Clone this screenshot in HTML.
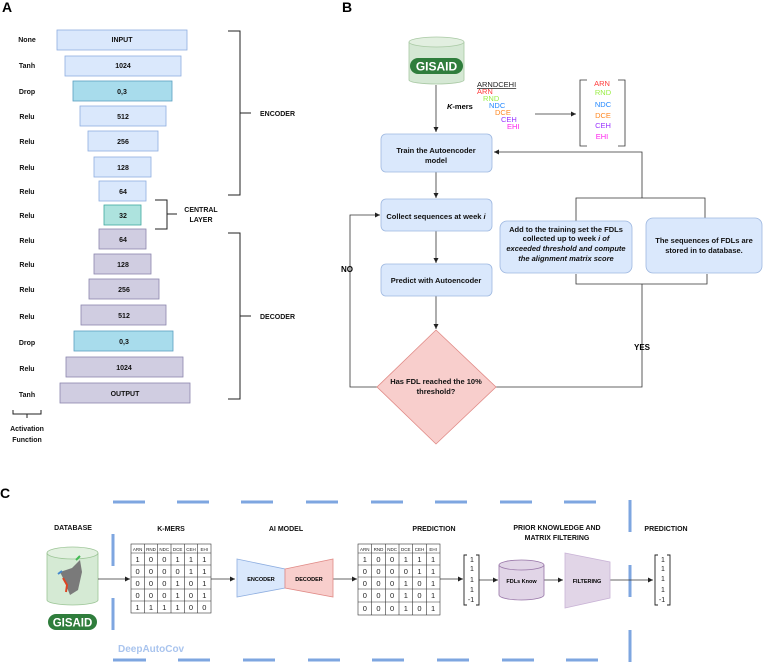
<!DOCTYPE html>
<html><head><meta charset="utf-8"><style>
html,body{margin:0;padding:0;background:#fff;}
svg{display:block;font-family:"Liberation Sans",Arial,sans-serif;}
.b{font-weight:bold;font-size:7px;fill:#111;}
.s{font-size:7.5px;fill:#111;font-weight:bold;}
</style></head><body>
<svg width="763" height="662" viewBox="0 0 763 662" xmlns="http://www.w3.org/2000/svg">
<defs>
<marker id="ar" markerWidth="6" markerHeight="6" refX="5" refY="3" orient="auto" markerUnits="userSpaceOnUse"><path d="M0,0.5 L5,3 L0,5.5z" fill="#222"/></marker>
</defs>
<!-- Panel A -->
<text x="2" y="12" font-size="14" font-weight="bold">A</text>
<g class="b" text-anchor="middle">
<text x="27" y="42">None</text><text x="27" y="68">Tanh</text><text x="27" y="94">Drop</text>
<text x="27" y="119">Relu</text><text x="27" y="144">Relu</text><text x="27" y="170">Relu</text>
<text x="27" y="194">Relu</text><text x="27" y="218">Relu</text><text x="27" y="243">Relu</text>
<text x="27" y="267">Relu</text><text x="27" y="292">Relu</text><text x="27" y="319">Relu</text>
<text x="27" y="345">Drop</text><text x="27" y="371">Relu</text><text x="27" y="397">Tanh</text>
</g>
<g stroke-width="0.8">
<rect x="57" y="30" width="130" height="20" fill="#dae8fc" stroke="#8eaee0"/>
<rect x="65" y="56" width="116" height="20" fill="#dae8fc" stroke="#8eaee0"/>
<rect x="73" y="81" width="99" height="20" fill="#a8dcec" stroke="#5a9fc0"/>
<rect x="80" y="106" width="86" height="20" fill="#dae8fc" stroke="#8eaee0"/>
<rect x="88" y="131" width="70" height="20" fill="#dae8fc" stroke="#8eaee0"/>
<rect x="94" y="157" width="57" height="20" fill="#dae8fc" stroke="#8eaee0"/>
<rect x="99" y="181" width="47" height="20" fill="#dae8fc" stroke="#8eaee0"/>
<rect x="104" y="205" width="37" height="20" fill="#ade3de" stroke="#3fa89f"/>
<rect x="99" y="229" width="47" height="20" fill="#d0cde1" stroke="#8c86ad"/>
<rect x="94" y="254" width="57" height="20" fill="#d0cde1" stroke="#8c86ad"/>
<rect x="89" y="279" width="70" height="20" fill="#d0cde1" stroke="#8c86ad"/>
<rect x="81" y="305" width="85" height="20" fill="#d0cde1" stroke="#8c86ad"/>
<rect x="74" y="331" width="99" height="20" fill="#a8dcec" stroke="#5a9fc0"/>
<rect x="66" y="357" width="117" height="20" fill="#d0cde1" stroke="#8c86ad"/>
<rect x="60" y="383" width="130" height="20" fill="#d0cde1" stroke="#8c86ad"/>
</g>
<g class="b" text-anchor="middle">
<text x="122" y="42">INPUT</text><text x="123" y="68">1024</text><text x="122" y="94">0,3</text>
<text x="123" y="119">512</text><text x="123" y="144">256</text><text x="123" y="170">128</text>
<text x="123" y="194">64</text><text x="123" y="218">32</text><text x="123" y="242">64</text>
<text x="123" y="267">128</text><text x="124" y="292">256</text><text x="124" y="318">512</text>
<text x="124" y="344">0,3</text><text x="124" y="370">1024</text><text x="125" y="396">OUTPUT</text>
</g>
<g fill="none" stroke="#222" stroke-width="1">
<path d="M228,31 H240 V195 H228 M240,113 H251"/>
<path d="M155,200 H167 V229 H155 M167,214 H177"/>
<path d="M228,233 H240 V399 H228 M240,316 H251"/>
<path d="M13,410 V414 H41 V410 M27,414 V418"/>
</g>
<g class="b">
<text x="260" y="116">ENCODER</text>
<text x="201" y="212" text-anchor="middle">CENTRAL</text>
<text x="201" y="222" text-anchor="middle">LAYER</text>
<text x="260" y="319">DECODER</text>
<text x="27" y="431" text-anchor="middle">Activation</text>
<text x="27" y="442" text-anchor="middle">Function</text>
</g>

<!-- Panel B -->
<text x="342" y="12" font-size="14" font-weight="bold">B</text>
<path d="M409,42 V80 A27.5,4 0 0 0 464,80 V42" fill="#d5e8d4" stroke="#a9c9a4" stroke-width="0.8"/>
<ellipse cx="436.5" cy="42" rx="27.5" ry="5" fill="#e2efe0" stroke="#a9c9a4" stroke-width="0.8"/>
<rect x="410" y="58" width="53" height="16" rx="8" fill="#2f7d3c"/>
<text x="436.5" y="70.5" text-anchor="middle" font-size="12" font-weight="bold" fill="#fff">GISAID</text>
<g stroke="#333" stroke-width="0.8" fill="none">
<path d="M436,85 V132" marker-end="url(#ar)"/>
<path d="M535,114 H576" marker-end="url(#ar)"/>
<path d="M436,172 V198" marker-end="url(#ar)"/>
<path d="M436,231 V263" marker-end="url(#ar)"/>
<path d="M436,296 V329" marker-end="url(#ar)"/>
<path d="M377,387 H350 V215 H380" marker-end="url(#ar)"/>
<path d="M496,387 H642 V284"/>
<path d="M576,274 V284 H707 V274"/>
<path d="M576,221 V198 H705 V218"/>
<path d="M642,198 V152 H494" marker-end="url(#ar)"/>
<path d="M587,80 H580 V146 H587 M618,80 H625 V146 H618"/>
</g>
<text x="447" y="109" font-size="7.5" font-weight="bold"><tspan font-style="italic">K</tspan>-mers</text>
<g font-size="7.5">
<text x="477" y="87" fill="#222" text-decoration="underline">ARNDCEHI</text>
<text x="477" y="94" fill="#ff3b3b">ARN</text>
<text x="483" y="101" fill="#99ee44">RND</text>
<text x="489" y="108" fill="#2288ff">NDC</text>
<text x="495" y="115" fill="#ff8822">DCE</text>
<text x="501" y="122" fill="#9933ff">CEH</text>
<text x="507" y="129" fill="#ff22ee">EHI</text>
<text x="602" y="86" fill="#ff3b3b" text-anchor="middle">ARN</text>
<text x="603" y="95" fill="#99ee44" text-anchor="middle">RND</text>
<text x="603" y="107" fill="#2288ff" text-anchor="middle">NDC</text>
<text x="603" y="118" fill="#ff8822" text-anchor="middle">DCE</text>
<text x="603" y="128" fill="#9933ff" text-anchor="middle">CEH</text>
<text x="602" y="139" fill="#ff22ee" text-anchor="middle">EHI</text>
</g>
<g fill="#dae8fc" stroke="#9db7e0" stroke-width="0.8">
<rect x="381" y="134" width="111" height="38" rx="5"/>
<rect x="381" y="199" width="111" height="32" rx="5"/>
<rect x="381" y="264" width="111" height="32" rx="5"/>
<rect x="500" y="221" width="132" height="52" rx="7"/>
<rect x="646" y="218" width="116" height="55" rx="7"/>
</g>
<path d="M436,330 L496,387 L436,444 L377,387z" fill="#f8cecc" stroke="#e08a86" stroke-width="0.8"/>
<g class="s" text-anchor="middle">
<text x="436" y="153">Train the Autoencoder</text>
<text x="436" y="163">model</text>
<text x="436" y="219">Collect sequences at week <tspan font-style="italic">i</tspan></text>
<text x="436" y="283">Predict with Autoencoder</text>
<text x="436" y="384">Has FDL reached the 10%</text>
<text x="436" y="394">threshold?</text>
<text x="566" y="232">Add to the training set the FDLs</text>
<text x="566" y="241">collected up to week <tspan font-style="italic">i of</tspan></text>
<text x="566" y="251" font-style="italic">exceeded threshold and compute</text>
<text x="566" y="261" font-style="italic">the alignment matrix score</text>
<text x="704" y="243">The sequences of FDLs are</text>
<text x="704" y="253">stored in to database.</text>
</g>
<text x="341" y="272" font-size="8" font-weight="bold">NO</text>
<text x="634" y="350" font-size="8" font-weight="bold">YES</text>

<!-- Panel C -->
<text x="0" y="498" font-size="14" font-weight="bold">C</text>
<g stroke="#7ea6e0" stroke-width="3" fill="none">
<path d="M113,502 H145 M177,502 H209 M241,502 H273 M306,502 H338 M371,502 H403 M435,502 H467 M500,502 H532 M564,502 H596"/>
<path d="M113,660 H146 M178,660 H210 M243,660 H275 M308,660 H340 M372,660 H404 M437,660 H469 M502,660 H534 M566,660 H598"/>
<path d="M113,534 V566 M113,598 V630"/>
<path d="M630,500 V532 M630,565 V597 M630,630 V662"/>
</g>
<g class="b" text-anchor="middle">
<text x="73" y="530">DATABASE</text>
<text x="171" y="531">K-MERS</text>
<text x="286" y="531">AI MODEL</text>
<text x="434" y="531">PREDICTION</text>
<text x="557" y="530">PRIOR KNOWLEDGE AND</text>
<text x="557" y="540">MATRIX FILTERING</text>
<text x="666" y="531">PREDICTION</text>
</g>
<!-- DB cylinder -->
<path d="M47,553 V600 A25.5,5 0 0 0 98,600 V553" fill="#d5ead4" stroke="#9cc596" stroke-width="0.8"/>
<ellipse cx="72.5" cy="553" rx="25.5" ry="6" fill="#e2f0e0" stroke="#9cc596" stroke-width="0.8"/>
<path d="M60,572 L72,568 L80,560 L82,572 L78,590 L70,595 L64,580z" fill="#7a7a7a"/>
<path d="M63,578 L67,585 L66,592" stroke="#dd4422" stroke-width="2" fill="none"/>
<path d="M58,574 L62,571" stroke="#4488cc" stroke-width="2"/>
<path d="M76,560 L80,556" stroke="#44bb55" stroke-width="2"/>
<rect x="48" y="614" width="49" height="16" rx="8" fill="#2f7d3c"/>
<text x="72.5" y="626.5" text-anchor="middle" font-size="11.5" font-weight="bold" fill="#fff">GISAID</text>
<g stroke="#333" stroke-width="0.8" fill="none">
<path d="M98,579 H130" marker-end="url(#ar)"/>
<path d="M211,579 H235" marker-end="url(#ar)"/>
<path d="M333,579 H357" marker-end="url(#ar)"/>
<path d="M440,579 H463" marker-end="url(#ar)"/>
<path d="M479,580 H498" marker-end="url(#ar)"/>
<path d="M544,580 H563" marker-end="url(#ar)"/>
<path d="M610,580 H653" marker-end="url(#ar)"/>
</g>
<!-- tables -->
<g stroke="#333" stroke-width="0.6" fill="#fff">
<rect x="131" y="544" width="80" height="69"/>
<rect x="358" y="544" width="82" height="71"/>
</g>
<g stroke="#333" stroke-width="0.6">
<path d="M131,553 H211 M131,565 H211 M131,577 H211 M131,589 H211 M131,601 H211"/>
<path d="M144.3,544 V613 M157.7,544 V613 M171,544 V613 M184.3,544 V613 M197.7,544 V613"/>
<path d="M358,553 H440 M358,565 H440 M358,577 H440 M358,589 H440 M358,602 H440"/>
<path d="M371.7,544 V615 M385.3,544 V615 M399,544 V615 M412.7,544 V615 M426.3,544 V615"/>
</g>
<g font-size="4.5" text-anchor="middle" fill="#222">
<text x="137.6" y="551">ARN</text><text x="151" y="551">RND</text><text x="164.3" y="551">NDC</text><text x="177.6" y="551">DCE</text><text x="191" y="551">CEH</text><text x="204.3" y="551">EHI</text>
<text x="364.8" y="551">ARN</text><text x="378.5" y="551">RND</text><text x="392.1" y="551">NDC</text><text x="405.8" y="551">DCE</text><text x="419.5" y="551">CEH</text><text x="433.1" y="551">EHI</text>
</g>
<g font-size="7.5" text-anchor="middle" fill="#222">
<text y="562"><tspan x="137.6">1</tspan><tspan x="151">0</tspan><tspan x="164.3">0</tspan><tspan x="177.6">1</tspan><tspan x="191">1</tspan><tspan x="204.3">1</tspan></text>
<text y="574"><tspan x="137.6">0</tspan><tspan x="151">0</tspan><tspan x="164.3">0</tspan><tspan x="177.6">0</tspan><tspan x="191">1</tspan><tspan x="204.3">1</tspan></text>
<text y="586"><tspan x="137.6">0</tspan><tspan x="151">0</tspan><tspan x="164.3">0</tspan><tspan x="177.6">1</tspan><tspan x="191">0</tspan><tspan x="204.3">1</tspan></text>
<text y="598"><tspan x="137.6">0</tspan><tspan x="151">0</tspan><tspan x="164.3">0</tspan><tspan x="177.6">1</tspan><tspan x="191">0</tspan><tspan x="204.3">1</tspan></text>
<text y="610"><tspan x="137.6">1</tspan><tspan x="151">1</tspan><tspan x="164.3">1</tspan><tspan x="177.6">1</tspan><tspan x="191">0</tspan><tspan x="204.3">0</tspan></text>
<text y="562"><tspan x="364.8">1</tspan><tspan x="378.5">0</tspan><tspan x="392.1">0</tspan><tspan x="405.8">1</tspan><tspan x="419.5">1</tspan><tspan x="433.1">1</tspan></text>
<text y="574"><tspan x="364.8">0</tspan><tspan x="378.5">0</tspan><tspan x="392.1">0</tspan><tspan x="405.8">0</tspan><tspan x="419.5">1</tspan><tspan x="433.1">1</tspan></text>
<text y="586"><tspan x="364.8">0</tspan><tspan x="378.5">0</tspan><tspan x="392.1">0</tspan><tspan x="405.8">1</tspan><tspan x="419.5">0</tspan><tspan x="433.1">1</tspan></text>
<text y="598"><tspan x="364.8">0</tspan><tspan x="378.5">0</tspan><tspan x="392.1">0</tspan><tspan x="405.8">1</tspan><tspan x="419.5">0</tspan><tspan x="433.1">1</tspan></text>
<text y="611"><tspan x="364.8">0</tspan><tspan x="378.5">0</tspan><tspan x="392.1">0</tspan><tspan x="405.8">1</tspan><tspan x="419.5">0</tspan><tspan x="433.1">1</tspan></text>
</g>
<!-- encoder/decoder -->
<path d="M237,559 L285,569 L285,588 L237,597z" fill="#dae8fc" stroke="#8eaee0" stroke-width="0.8"/>
<path d="M285,569 L333,559 L333,597 L285,588z" fill="#f8cecc" stroke="#e08a86" stroke-width="0.8"/>
<text x="261" y="581" text-anchor="middle" font-size="5.5" font-weight="bold">ENCODER</text>
<text x="309" y="581" text-anchor="middle" font-size="5.5" font-weight="bold">DECODER</text>
<!-- vectors -->
<g stroke="#222" stroke-width="0.9" fill="none">
<path d="M467,555 H464 V605 H467 M476,555 H479 V605 H476"/>
<path d="M658,555 H655 V605 H658 M667,555 H670 V605 H667"/>
</g>
<g font-size="7" text-anchor="middle" fill="#222">
<text x="472" y="562">1</text><text x="472" y="571">1</text><text x="472" y="582">1</text><text x="472" y="592">1</text><text x="471" y="602">-1</text>
<text x="663" y="562">1</text><text x="663" y="571">1</text><text x="663" y="581">1</text><text x="663" y="592">1</text><text x="662" y="602">-1</text>
</g>
<!-- FDLs cylinder -->
<path d="M499,565 V595 A22.5,5 0 0 0 544,595 V565" fill="#e1d5e7" stroke="#9673a6" stroke-width="0.8"/>
<ellipse cx="521.5" cy="565" rx="22.5" ry="5" fill="#e1d5e7" stroke="#9673a6" stroke-width="0.8"/>
<text x="521.5" y="583" text-anchor="middle" font-size="5.5" font-weight="bold">FDLs Know</text>
<path d="M565,553 L610,562 L610,598 L565,608z" fill="#e1d5e7" stroke="#c9b3d6" stroke-width="0.8"/>
<text x="587" y="583" text-anchor="middle" font-size="5.5" font-weight="bold">FILTERING</text>
<text x="118" y="652" font-size="10" font-weight="bold" fill="#a9c4ee">DeepAutoCov</text>
</svg>
</body></html>
